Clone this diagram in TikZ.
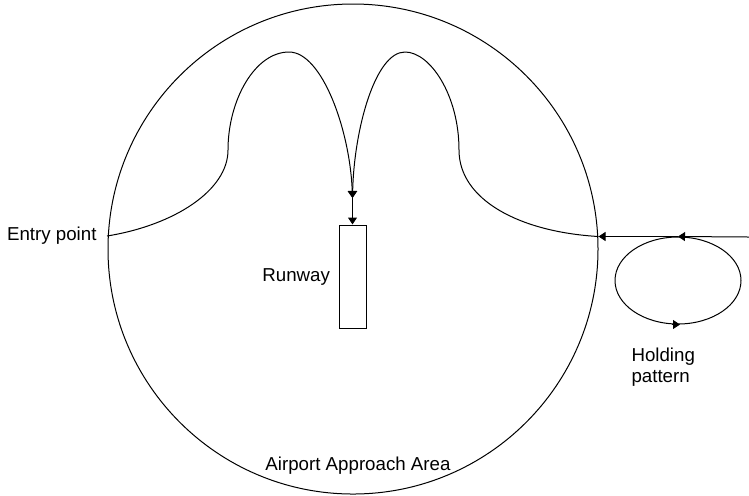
\documentclass[tikz,border=0pt]{standalone}
\usepackage{fontspec}
\setmainfont{Liberation Sans}
\usetikzlibrary{arrows.meta,positioning,shapes.geometric}

\begin{document}
\begin{tikzpicture}[x=.5pt,y=-.5pt,line width=.5pt,>={Triangle[length=3.5pt,width=4.5pt]},
  lbl/.style={inner sep=0,font=\fontsize{9.35}{10.5}\selectfont,align=left}]
\useasboundingbox (0,0) rectangle (749,495);
\node[draw,circle,minimum size=245pt,inner sep=0] (area) at (353,249) {};
\node[draw,minimum width=13.5pt,minimum height=51.5pt,inner sep=0] (rw) at (352.5,276.5) {};
\node[draw,ellipse,minimum width=63pt,minimum height=43.5pt,inner sep=0] (hold) at (678,280.5) {};
\coordinate (entry) at (107,236);
\coordinate (m) at (352.5,198);
\coordinate (j) at (area.east |- hold.north);
\coordinate (in) at (749,237);
\node[lbl,left=5pt of entry] (el) {Entry point};
\node[lbl,left=4pt of rw] (rl) {Runway};
\node[lbl,anchor=north west] (hl) at (631,347) {Holding\\pattern};
\node[lbl,anchor=base] (al) at (358,470) {Airport Approach Area};
% two loops down onto the runway
\draw[->] (entry) .. controls (175,225) and (228,190) .. (228,150)
  .. controls (228,100) and (255,52) .. (289,52)
  .. controls (322,52) and (350,130) .. (m);
\draw[->] (j) .. controls (520,232) and (459,200) .. (459,150)
  .. controls (459,95) and (430,52) .. (405,52)
  .. controls (375,52) and (354,130) .. (m);
\draw[->] (m) -- (rw);
% inbound track and holding
\draw[->] (in) -- (hold.north);
\draw[->] (hold.north) -- (j);
\draw[->] ([xshift=-3pt]hold.south) -- ([xshift=1pt]hold.south);
\end{tikzpicture}
\end{document}
